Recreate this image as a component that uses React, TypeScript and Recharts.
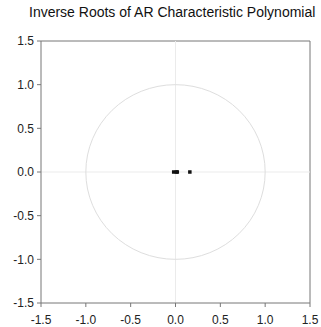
import { ScatterChart, Scatter, XAxis, YAxis, ReferenceLine, ReferenceDot, Customized } from 'recharts';

const TITLE = 'Inverse Roots of AR Characteristic Polynomial';
const AXIS_TICKS = [-1.5, -1.0, -0.5, 0.0, 0.5, 1.0, 1.5];
const ROOT_RE = [-0.02, 0.01, 0.02, 0.16];
const ROOT_IM = [0, 0, 0, 0];
const UNIT_RADIUS = 1;

const roots = ROOT_RE.map((re, i) => ({ re, im: ROOT_IM[i] }));

const W = 321;
const H = 327;
const M = { top: 41, right: 11, left: 0, bottom: 0 };
const Y_W = 41;
const X_H = 24;
const PLOT_W = W - M.left - M.right - Y_W;
const PLOT_H = H - M.top - M.bottom - X_H;
const SPAN = AXIS_TICKS[AXIS_TICKS.length - 1] - AXIS_TICKS[0];

const fmt = (v: number) => v.toFixed(1);

const RootMark = (props: any) => {
  const { cx, cy } = props;
  const s = 3.5;
  return <rect x={cx - s / 2} y={cy - s / 2} width={s} height={s} fill="#111" />;
};

const UnitCircle = (props: any) => {
  const { cx, cy } = props;
  return (
    <ellipse
      cx={cx}
      cy={cy}
      rx={(PLOT_W / SPAN) * UNIT_RADIUS}
      ry={(PLOT_H / SPAN) * UNIT_RADIUS}
      fill="none"
      stroke="#dedede"
      strokeWidth={1}
    />
  );
};

const Frame = () => (
  <g>
    <line x1={M.left + Y_W} y1={M.top} x2={W - M.right} y2={M.top} stroke="#777" />
    <line x1={W - M.right} y1={M.top} x2={W - M.right} y2={M.top + PLOT_H} stroke="#777" />
  </g>
);

export default function App() {
  return (
    <div style={{ position: 'relative', width: W, height: H, overflow: 'hidden', background: '#fff', fontFamily: 'Arial, "Liberation Sans", sans-serif' }}>
      <style>{'body{margin:0}'}</style>
      <div
        style={{
          position: 'absolute',
          left: 29,
          top: 4,
          fontSize: 14,
          whiteSpace: 'nowrap',
          color: '#111',
        }}
      >
        {TITLE}
      </div>
      <ScatterChart width={W} height={H} margin={M}>
        <XAxis
          type="number"
          dataKey="re"
          domain={[AXIS_TICKS[0], AXIS_TICKS[AXIS_TICKS.length - 1]]}
          ticks={AXIS_TICKS}
          tickFormatter={fmt}
          height={X_H}
          stroke="#777"
          tickSize={4}
          tickMargin={8}
          tick={{ fill: '#222', fontSize: 12 }}
          allowDataOverflow
        />
        <YAxis
          type="number"
          dataKey="im"
          domain={[AXIS_TICKS[0], AXIS_TICKS[AXIS_TICKS.length - 1]]}
          ticks={AXIS_TICKS}
          tickFormatter={fmt}
          width={Y_W}
          stroke="#777"
          tickSize={4}
          tickMargin={3}
          tick={{ fill: '#222', fontSize: 12 }}
          allowDataOverflow
        />
        <ReferenceLine x={0} stroke="#ebebeb" />
        <ReferenceLine y={0} stroke="#ebebeb" />
        <ReferenceDot x={0} y={0} shape={UnitCircle} />
        <Customized component={Frame} />
        <Scatter data={roots} shape={RootMark} isAnimationActive={false} />
      </ScatterChart>
    </div>
  );
}
